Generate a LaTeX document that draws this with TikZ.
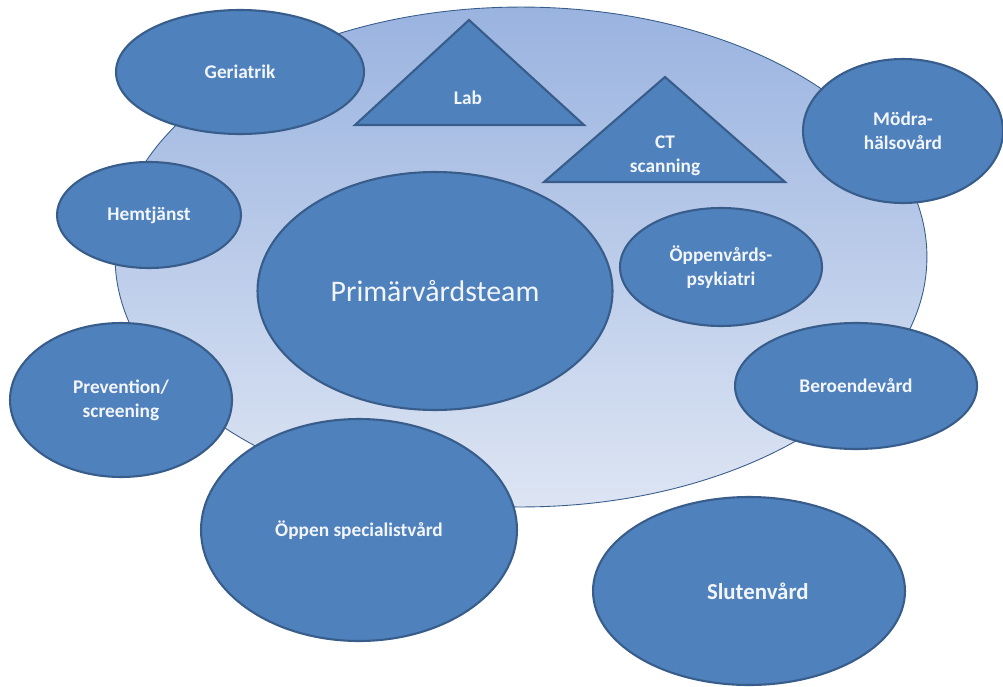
\documentclass[tikz,border=0pt]{standalone}
\usepackage{fontspec}
\setmainfont{Carlito}
\usetikzlibrary{shapes.geometric}

\definecolor{unitfill}{HTML}{4F81BD}
\definecolor{unitdraw}{HTML}{385D8A}
\definecolor{bgtop}{HTML}{9AB3E0}
\definecolor{bgbottom}{HTML}{DDE5F3}
\definecolor{unittext}{HTML}{F2F5FB}

\begin{document}
\begin{tikzpicture}[
  x=0.02cm, y=-0.02cm,
  unit/.style={ellipse, draw=unitdraw, fill=unitfill, line width=1.2pt, inner sep=0pt,
    text=unittext, align=center, font=\fontsize{11}{13.6}\selectfont\bfseries},
  labtri/.style={draw=unitdraw, fill=unitfill, line width=1.2pt, line join=miter},
  trilabel/.style={text=unittext, align=center, font=\fontsize{11}{13.6}\selectfont\bfseries}
]
  \useasboundingbox (0,0) rectangle (1003,686);
  % background area
  \node[ellipse, draw=unitdraw, line width=0.5pt, top color=bgtop, bottom color=bgbottom,
    minimum width=16.24cm, minimum height=10cm] (omrade) at (521,257) {};
  % units
  \node[unit, minimum width=4.96cm, minimum height=2.48cm] (geri) at (240,72) {Geriatrik};
  \draw[labtri] (469,20) -- (584,125) -- (355,125) -- cycle;
  \node[trilabel] (lab) at (468,98) {Lab};
  \draw[labtri] (665,77) -- (785,182) -- (544,182) -- cycle;
  \node[trilabel] (ct) at (665,156) {CT\\scanning};
  \node[unit, minimum width=4.0cm, minimum height=2.88cm] (modra) at (903,131) {Mödra-\\hälsovård};
  \node[unit, minimum width=3.68cm, minimum height=2.12cm] (hem) at (149,215) {Hemtjänst};
  \node[unit, minimum width=7.1cm, minimum height=4.76cm,
    font=\fontsize{17}{20}\selectfont] (primar) at (435,291) {Primärvårdsteam};
  \node[unit, minimum width=4.04cm, minimum height=2.36cm] (psyk) at (721,267) {Öppenvårds-\\psykiatri};
  \node[unit, minimum width=4.84cm, minimum height=2.52cm] (beroende) at (856,386) {Beroendevård};
  \node[unit, minimum width=4.44cm, minimum height=3.08cm] (prev) at (121,400) {Prevention/\\screening};
  \node[unit, minimum width=6.32cm, minimum height=4.44cm] (spec) at (359,530) {Öppen specialistvård};
  \node[unit, minimum width=6.24cm, minimum height=3.76cm,
    font=\fontsize{13}{16}\selectfont\bfseries] (sluten) at (749,591) {\hspace*{10pt}Slutenvård};
\end{tikzpicture}
\end{document}
